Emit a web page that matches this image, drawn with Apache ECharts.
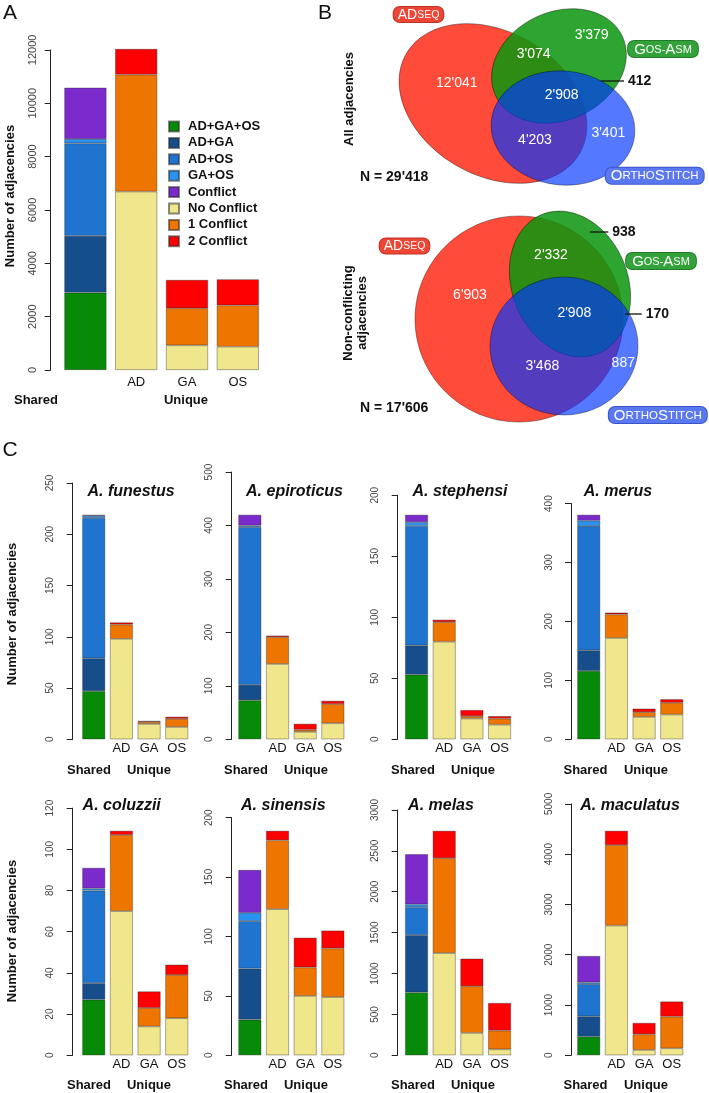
<!DOCTYPE html>
<html>
<head>
<meta charset="utf-8">
<script src="https://cdn.jsdelivr.net/npm/echarts@6/dist/echarts.min.js"></script>
<style>
  html, body { margin: 0; padding: 0; background: #fff; }
  #main { width: 709px; height: 1093px; }
</style>
</head>
<body>
<div id="main"></div>
<script>
  var myChart = echarts.init(document.getElementById('main'));

  // 分类、图层名
  var categories = ['', 'AD', 'GA', 'OS'];
  var layerNames = ['AD+GA+OS', 'AD+GA', 'AD+OS', 'GA+OS', 'Conflict', 'No Conflict', '1 Conflict', '2 Conflict'];
  var layerColors = ['#078a07', '#164e8c', '#1f74cf', '#2a93f0', '#7b2bcc', '#f0e68c', '#ee7600', '#ff0000'];

  // A: shared = [AD+GA+OS, AD+GA, AD+OS, GA+OS, Conflict]; AD/GA/OS = [No, 1, 2 Conflict]
  var sharedAll = [2900, 2125, 3475, 160, 1925];
  var adAll = [6690, 4385, 960];
  var gaAll = [925, 1390, 1060];
  var osAll = [875, 1550, 975];

  // C: 各物种
  var speciesNames = ['A. funestus', 'A. epiroticus', 'A. stephensi', 'A. merus',
                      'A. coluzzii', 'A. sinensis', 'A. melas', 'A. maculatus'];
  var funestusShared = [47, 32, 137, 2, 1];
  var funestusAD = [98, 14, 2];
  var funestusGA = [15, 2, 1];
  var funestusOS = [12, 8, 2];
  var epiroticusShared = [73, 29, 295, 3, 20];
  var epiroticusAD = [141, 50, 3];
  var epiroticusGA = [14, 4, 11];
  var epiroticusOS = [30, 36, 6];
  var stephensiShared = [53, 24, 98, 3, 6];
  var stephensiAD = [80, 16, 2];
  var stephensiGA = [17, 2, 5];
  var stephensiOS = [12, 5, 2];
  var merusShared = [116, 35, 211, 9, 10];
  var merusAD = [172, 40, 3];
  var merusGA = [38, 8, 6];
  var merusOS = [42, 20, 6];
  var coluzziiShared = [27, 8, 45, 1, 10];
  var coluzziiAD = [70, 37, 2];
  var coluzziiGA = [14, 9, 8];
  var coluzziiOS = [18, 21, 5];
  var sinensisShared = [30, 43, 40, 7, 36];
  var sinensisAD = [123, 58, 8];
  var sinensisGA = [50, 24, 25];
  var sinensisOS = [49, 41, 15];
  var melasShared = [770, 700, 340, 36, 612];
  var melasAD = [1250, 1160, 335];
  var melasGA = [273, 571, 338];
  var melasOS = [73, 229, 338];
  var maculatusShared = [370, 405, 640, 35, 525];
  var maculatusAD = [2580, 1600, 285];
  var maculatusGA = [106, 312, 226];
  var maculatusOS = [140, 630, 300];

  // y轴刻度
  var yTickMaxAll = 12000, yTickStepAll = 2000;
  var yTickMax = [250, 500, 200, 400, 120, 200, 3000, 5000];
  var yTickStep = [50, 100, 50, 100, 20, 50, 500, 1000];

  // B: 韦恩图区域 [AD, AD+GA, GA, AD+GA+OS, GA+OS, AD+OS, OS]
  var vennAll = [12041, 3074, 3379, 2908, 412, 4203, 3401];
  var vennNonConflict = [6903, 2332, 938, 2908, 170, 3468, 887];

  var FONT = 'Liberation Sans, Arial, Helvetica, sans-serif';

  function fmt(n) {
    return String(n).replace(/\B(?=(\d{3})+(?!\d))/g, "'");
  }
  function sum(a) { return a.reduce(function (s, v) { return s + v; }, 0); }

  var grids = [], xAxes = [], yAxes = [], series = [], graphics = [];

  function addPanel(idx, shared, ad, ga, os, tickMax, tickStep, lay) {
    var maxStack = Math.max(sum(shared), sum(ad), sum(ga), sum(os));
    var h = tickMax * lay.barPx / maxStack;
    grids.push({ left: lay.left, top: lay.bottom - h, width: lay.width, height: h,
                 containLabel: false, outerBoundsMode: 'none' });
    xAxes.push({
      gridIndex: idx, type: 'category', data: categories,
      axisLine: { show: false }, axisTick: { show: false }, splitLine: { show: false },
      axisLabel: { interval: 0, margin: lay.xMargin, color: '#111', fontSize: 13, fontFamily: FONT }
    });
    yAxes.push({
      gridIndex: idx, type: 'value', min: 0, max: tickMax, interval: tickStep,
      offset: lay.offset,
      axisLine: { show: true, lineStyle: { color: '#222', width: 1 } },
      axisTick: { show: true, length: 6, lineStyle: { color: '#222', width: 1 } },
      splitLine: { show: false },
      axisLabel: {
        rotate: 90, margin: lay.yMargin, color: '#444', fontSize: lay.yFont, fontFamily: FONT,
        formatter: function (v) { return String(v); }
      }
    });
    for (var k = 0; k < layerNames.length; k++) {
      var d;
      if (k < 5) d = [shared[k], '-', '-', '-'];
      else d = ['-', ad[k - 5], ga[k - 5], os[k - 5]];
      series.push({
        type: 'bar', name: layerNames[k], xAxisIndex: idx, yAxisIndex: idx,
        stack: 's' + idx, data: d, barCategoryGap: '17%', clip: false, silent: true,
        itemStyle: { color: layerColors[k], borderColor: 'rgba(40,40,40,0.55)', borderWidth: 0.7 }
      });
    }
  }

  function txt(x, y, text, o) {
    o = o || {};
    return {
      type: 'text', x: x, y: y, rotation: o.rotation || 0, silent: true,
      style: {
        text: text, fill: o.color || '#111', fontFamily: FONT,
        fontSize: o.size || 13, fontWeight: o.weight || 'normal', fontStyle: o.italic ? 'italic' : 'normal',
        align: o.align || 'center', verticalAlign: 'middle',
        textAlign: o.align || 'center', textVerticalAlign: 'middle',
        lineHeight: o.lineHeight, rich: o.rich,
        backgroundColor: o.bg, borderColor: o.border, borderWidth: o.border ? 1 : 0,
        borderRadius: o.radius, padding: o.padding
      }
    };
  }

  // 面板A
  addPanel(0, sharedAll, adAll, gaAll, osAll, yTickMaxAll, yTickStepAll,
    { left: 60, width: 203.2, bottom: 370, barPx: 321, offset: 9.3, xMargin: 6, yMargin: 12, yFont: 11 });

  // 面板C
  var speciesShared = [funestusShared, epiroticusShared, stephensiShared, merusShared,
                       coluzziiShared, sinensisShared, melasShared, maculatusShared];
  var speciesAD = [funestusAD, epiroticusAD, stephensiAD, merusAD, coluzziiAD, sinensisAD, melasAD, maculatusAD];
  var speciesGA = [funestusGA, epiroticusGA, stephensiGA, merusGA, coluzziiGA, sinensisGA, melasGA, maculatusGA];
  var speciesOS = [funestusOS, epiroticusOS, stephensiOS, merusOS, coluzziiOS, sinensisOS, melasOS, maculatusOS];

  var colLeft = [79.9, 236, 402.7, 574.9];
  var colOffset = [7.2, 4.3, 5, 3.9];
  var rowBottom = [739.3, 1055.3];
  var titleX = [131, 294.5, 460, 618, 121.7, 283.3, 441, 630];
  var titleY = [491.7, 806];
  var sharedLabelX = [89, 246, 413, 585.5];
  var uniqueLabelX = [149, 306, 473, 646];
  var groupLabelY = [770.7, 1085];
  var yTitleY = [614, 931];

  for (var i = 0; i < 8; i++) {
    var col = i % 4, row = Math.floor(i / 4);
    addPanel(i + 1, speciesShared[i], speciesAD[i], speciesGA[i], speciesOS[i], yTickMax[i], yTickStep[i],
      { left: colLeft[col], width: 110.7, bottom: rowBottom[row], barPx: 224.5, offset: colOffset[col],
        xMargin: 3, yMargin: 17, yFont: 10 });
    graphics.push(txt(titleX[i], titleY[row], speciesNames[i], { size: 16, weight: 'bold', italic: true }));
    graphics.push(txt(sharedLabelX[col], groupLabelY[row], 'Shared', { weight: 'bold' }));
    graphics.push(txt(uniqueLabelX[col], groupLabelY[row], 'Unique', { weight: 'bold' }));
  }
  graphics.push(txt(12, yTitleY[0], 'Number of adjacencies', { weight: 'bold', rotation: Math.PI / 2 }));
  graphics.push(txt(12, yTitleY[1], 'Number of adjacencies', { weight: 'bold', rotation: Math.PI / 2 }));

  // 面板A 文字
  graphics.push(txt(10, 196, 'Number of adjacencies', { weight: 'bold', rotation: Math.PI / 2 }));
  graphics.push(txt(36, 400, 'Shared', { weight: 'bold' }));
  graphics.push(txt(186, 400, 'Unique', { weight: 'bold' }));

  // 面板字母
  graphics.push(txt(10, 13, 'A', { size: 21 }));
  graphics.push(txt(325, 13, 'B', { size: 21 }));
  graphics.push(txt(10, 450, 'C', { size: 21 }));

  // 面板B 韦恩图
  var vennRed = '#ff4b3a', vennGreen = 'rgba(12,150,14,0.86)', vennBlue = 'rgba(0,54,255,0.67)';
  var vennEdge = 'rgba(0,0,0,0.45)';
  var vennShapes = [
    [ { x: 493, y: 103.5, rx: 100, ry: 72, rot: -0.52, c: vennRed },
      { x: 559, y: 66, rx: 70, ry: 54, rot: 0.44, c: vennGreen },
      { x: 563, y: 128, rx: 72, ry: 57, rot: -0.1, c: vennBlue } ],
    [ { x: 519, y: 319, rx: 104, ry: 103, rot: 0, c: vennRed },
      { x: 570, y: 284, rx: 58, ry: 75, rot: 0.38, c: vennGreen },
      { x: 564, y: 346, rx: 74, ry: 69, rot: 0, c: vennBlue } ]
  ];
  // 标签位置: 白字为区域内, callout 为外部引线
  var vennPos = [
    [[456.7, 83.3], [533.7, 54.3], [591.7, 35], [561.7, 95], [600.7, 81, 624], [535, 140], [608.3, 132.7]],
    [[470, 295], [551, 255], [590, 232, 608.3], [574.3, 313.3], [625, 314, 641.7], [542.3, 365.7], [623.3, 363.3]]
  ];
  var vennValues = [vennAll, vennNonConflict];
  var vennNY = [177, 408];
  var vennBoxes = [
    [[418.5, 14.5], [663, 49], [654.7, 175.8]],
    [[404.5, 246], [661, 261], [657.8, 415]]
  ];

  for (var v = 0; v < 2; v++) {
    vennShapes[v].forEach(function (e) {
      graphics.push({
        type: 'ellipse', x: e.x, y: e.y, rotation: e.rot, silent: true,
        shape: { cx: 0, cy: 0, rx: e.rx, ry: e.ry },
        style: { fill: e.c, stroke: vennEdge, lineWidth: 0.8 }
      });
    });
    vennValues[v].forEach(function (val, r) {
      var p = vennPos[v][r];
      if (p.length === 3) {
        graphics.push({ type: 'line', silent: true, shape: { x1: p[0], y1: p[1], x2: p[2], y2: p[1] },
                        style: { stroke: '#111', lineWidth: 1.3 } });
        graphics.push(txt(p[2] + 4, p[1], fmt(val), { size: 14, weight: 'bold', align: 'left' }));
      } else {
        graphics.push(txt(p[0], p[1], fmt(val), { size: 14, color: '#fff' }));
      }
    });
    graphics.push(txt(360, vennNY[v], 'N = ' + fmt(sum(vennValues[v])), { size: 14, weight: 'bold', align: 'left' }));

    var bx = vennBoxes[v];
    graphics.push(txt(bx[0][0], bx[0][1], '{b|AD}{s|SEQ}', {
      bg: '#ee4535', border: '#b83526', radius: 6, padding: [1, 4, 0, 4],
      rich: { b: { fontSize: 14, fill: '#fff', fontFamily: FONT }, s: { fontSize: 10.5, fill: '#fff', fontFamily: FONT } }
    }));
    graphics.push(txt(bx[1][0], bx[1][1], '{b|G}{s|OS-}{b|A}{s|SM}', {
      bg: '#33a23a', border: '#237a28', radius: 6, padding: [1, 6, 0, 6],
      rich: { b: { fontSize: 15, fill: '#fff', fontFamily: FONT }, s: { fontSize: 11, fill: '#fff', fontFamily: FONT } }
    }));
    graphics.push(txt(bx[2][0], bx[2][1], '{b|O}{s|RTHO}{b|S}{s|TITCH}', {
      bg: '#5a78f0', border: '#3a55c8', radius: 6, padding: [1, 5, 0, 5],
      rich: { b: { fontSize: 15, fill: '#fff', fontFamily: FONT }, s: { fontSize: 11.5, fill: '#fff', fontFamily: FONT } }
    }));
  }
  graphics.push(txt(349, 99, 'All adjacencies', { weight: 'bold', rotation: Math.PI / 2 }));
  graphics.push(txt(355, 313, 'Non-conflicting\nadjacencies', { weight: 'bold', rotation: Math.PI / 2, lineHeight: 14 }));

  var option = {
    animation: false,
    backgroundColor: '#fff',
    textStyle: { fontFamily: FONT },
    legend: {
      data: layerNames, orient: 'vertical', left: 163, top: 115,
      itemWidth: 10, itemHeight: 10, itemGap: 3.4, icon: 'rect', selectedMode: false,
      textStyle: { fontSize: 13, fontWeight: 'bold', color: '#111', fontFamily: FONT, padding: [0, 0, 0, 4] }
    },
    grid: grids,
    xAxis: xAxes,
    yAxis: yAxes,
    series: series,
    graphic: { elements: graphics }
  };

  myChart.setOption(option);
</script>
</body>
</html>
